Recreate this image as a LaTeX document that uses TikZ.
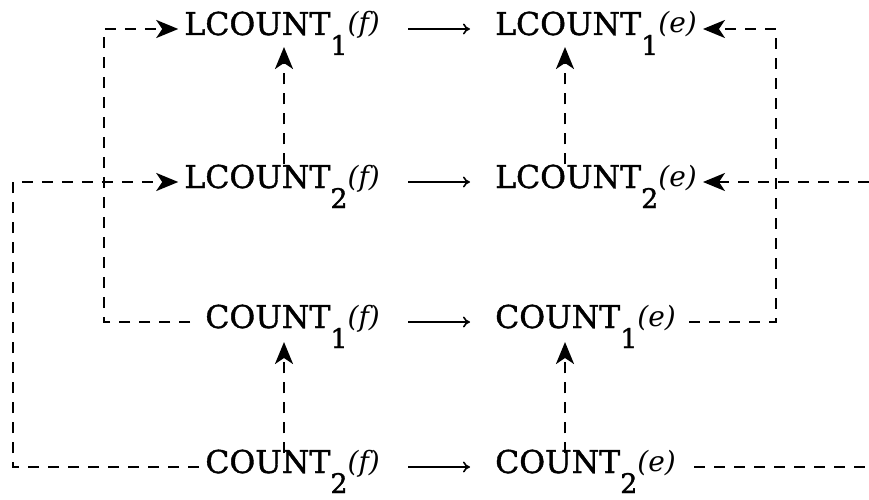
\documentclass[tikz,border=0pt]{standalone}
\usepackage{fontspec}
\setmainfont{DejaVu Serif}[UprightFeatures={FakeBold=1.2}]
\usetikzlibrary{arrows.meta,calc}
\newcommand\ctsub[1]{\raisebox{-20pt}{\fontsize{27}{27}\selectfont #1}}
\newcommand\ctarg[1]{\raisebox{2pt}{\fontsize{28}{28}\selectfont\itshape(#1)}}
\begin{document}
\begin{tikzpicture}[x=1pt,y=-1pt,
  lbl/.style={inner sep=0pt, font=\fontsize{31.5}{36}\selectfont},
  leftlbl/.style={lbl, anchor=base east},
  rightlbl/.style={lbl, anchor=base west},
  dline/.style={line width=2.6pt, dash pattern=on 11pt off 9pt},
  dhead/.style={-{Stealth[length=22pt,width=18pt,inset=6pt]}},
  sarrow/.style={line width=1.6pt, -{To[length=7pt,width=11pt]}}]
\useasboundingbox (0,0) rectangle (869,500);
% nodes
\node[leftlbl]  (lf1) at (380,35)  {LCOUNT\ctsub{1}\ctarg{f}};
\node[rightlbl] (le1) at (495,35)  {LCOUNT\ctsub{1}\ctarg{e}};
\node[leftlbl]  (lf2) at (380,188) {LCOUNT\ctsub{2}\ctarg{f}};
\node[rightlbl] (le2) at (495,188) {LCOUNT\ctsub{2}\ctarg{e}};
\node[leftlbl]  (cf1) at (380,328) {COUNT\ctsub{1}\ctarg{f}};
\node[rightlbl] (ce1) at (495,328) {COUNT\ctsub{1}\ctarg{e}};
\node[leftlbl]  (cf2) at (380,473) {COUNT\ctsub{2}\ctarg{f}};
\node[rightlbl] (ce2) at (495,473) {COUNT\ctsub{2}\ctarg{e}};
% helper coordinates
\coordinate (vl) at (284,0);
\coordinate (vr) at (565,0);
\coordinate (ilx) at (104,250);
\coordinate (olx) at (13,300);
\coordinate (irx) at (776,150);
\coordinate (edge2) at (869,182);
\coordinate (edge4) at (869,467);
% solid arrows
\foreach \a/\b in {lf1/le1, lf2/le2, cf1/ce1, cf2/ce2}
  \draw[sarrow] ($(\a.base east)+(28,-6)$) -- ($(\b.base west)+(-25,-6)$);
% vertical dashed arrows
\draw[dline,dhead] (lf2.north -| vl) -- ($(lf1.base -| vl)+(0,12)$);
\draw[dline,dhead] (le2.north -| vr) -- ($(le1.base -| vr)+(0,12)$);
\draw[dline,dhead] ([yshift=-4pt]cf2.north -| vl) -- ($(cf1.base -| vl)+(0,14)$);
\draw[dline,dhead] ([yshift=-4pt]ce2.north -| vr) -- ($(ce1.base -| vr)+(0,14)$);
% loops
\draw[dline,dhead] ($(cf1.base west)+(-15,-6)$) -| (ilx) |- ($(lf1.base west)+(-6,-6)$);
\draw[dline,dhead] ($(cf2.base west)+(-6,-6)$) -| (olx) |- ($(lf2.base west)+(-6,-6)$);
\draw[dline,dhead] ($(ce1.base east)+(13,-6)$) -| (irx) |- ($(le1.base east)+(6,-6)$);
\draw[dline,dhead] (edge2) -- ($(le2.base east)+(6,-6)$);
\draw[dline] ($(ce2.base east)+(18,-6)$) -- (edge4);
\end{tikzpicture}
\end{document}
